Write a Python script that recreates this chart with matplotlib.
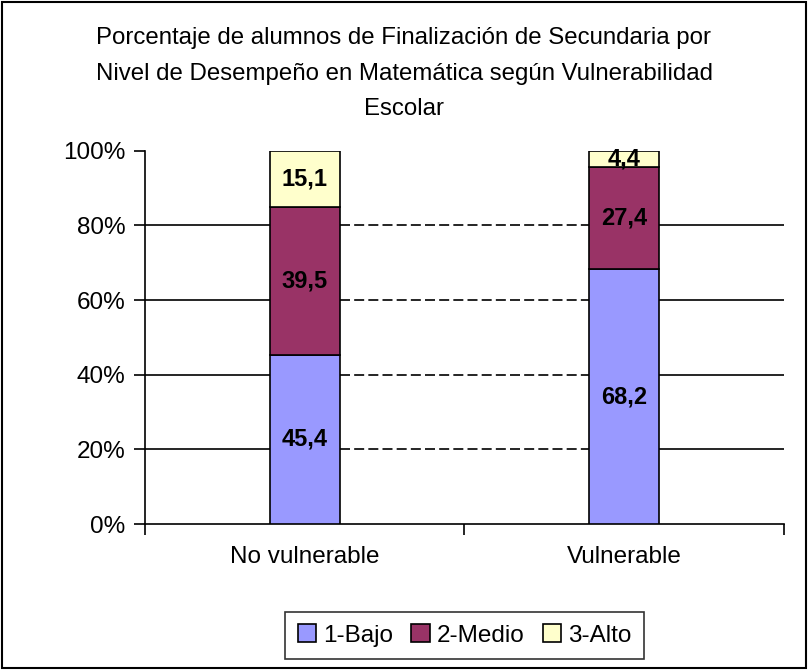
import matplotlib
matplotlib.use("Agg")
import matplotlib.pyplot as plt
from matplotlib.patches import Rectangle

categories = ["No vulnerable", "Vulnerable"]
series_names = ["1-Bajo", "2-Medio", "3-Alto"]
bajo = [45.4, 68.2]
medio = [39.5, 27.4]
alto = [15.1, 4.4]
ytick_labels = ["0%", "20%", "40%", "60%", "80%", "100%"]
title = ("Porcentaje de alumnos de Finalización de Secundaria por\n"
         "Nivel de Desempeño en Matemática según Vulnerabilidad\n"
         "Escolar")

colors = ["#9999FF", "#993366", "#FFFFCC"]
font = "Liberation Sans"
plt.rcParams["font.family"] = [font, "DejaVu Sans"]

fig = plt.figure(figsize=(8.08, 6.71), dpi=100)
ax = fig.add_axes([0.1795, 0.219, 0.970 - 0.1795, 0.7754 - 0.219])

x = list(range(len(categories)))
w = 0.22
bottoms = [0.0] * len(categories)
for vals, name, c in zip([bajo, medio, alto], series_names, colors):
    ax.bar(x, vals, width=w, bottom=bottoms, color=c, edgecolor="black",
           linewidth=1.2, label=name, zorder=3)
    for xi, v, b in zip(x, vals, bottoms):
        ax.text(xi, b + v / 2, f"{v:.1f}".replace(".", ","), ha="center", va="center",
                fontsize=17, fontweight="bold", color="black", zorder=4)
    bottoms = [b + v for b, v in zip(bottoms, vals)]

ax.set_xlim(-0.5, len(categories) - 0.5)
ax.set_ylim(0, 100)

# gridlines: solid outside bars, dashed between bars
for gy in [20, 40, 60, 80]:
    ax.hlines(gy, -0.5, -w / 2, colors="black", linewidth=1.2, zorder=1)
    ax.hlines(gy, w / 2, 1 - w / 2, colors="black", linewidth=1.2,
              linestyles=(0, (6, 2.5)), zorder=1)
    ax.hlines(gy, 1 + w / 2, 1.5, colors="black", linewidth=1.2, zorder=1)

ax.set_yticks([0, 20, 40, 60, 80, 100])
ax.set_yticklabels(ytick_labels, fontsize=17.5)
ax.set_xticks(x)
ax.set_xticklabels(categories, fontsize=17.5)
ax.set_xticks([-0.5, 0.5, 1.5], minor=True)
ax.tick_params(axis="x", which="major", length=0, pad=16)
ax.tick_params(axis="x", which="minor", length=8, width=1.2, direction="out")
ax.tick_params(axis="y", length=8, width=1.2, direction="out", pad=6)
for s in ["top", "right"]:
    ax.spines[s].set_visible(False)
for s in ["left", "bottom"]:
    ax.spines[s].set_linewidth(1.2)

fig.text(0.5, 0.890, title, ha="center", va="center", fontsize=17.3, linespacing=1.8)

leg = fig.legend(loc="center", bbox_to_anchor=(0.575, 0.053), ncol=3, fontsize=17.5,
                 frameon=True, fancybox=False, edgecolor="black", handlelength=0.75,
                 handleheight=0.75, handletextpad=0.3, columnspacing=0.75, borderpad=0.5)
leg.get_frame().set_linewidth(1.2)

fig.patches.append(Rectangle((0.003, 0.004), 0.994, 0.993, transform=fig.transFigure,
                             fill=False, edgecolor="black", linewidth=1.5))

fig.savefig("out.png", dpi=100)
